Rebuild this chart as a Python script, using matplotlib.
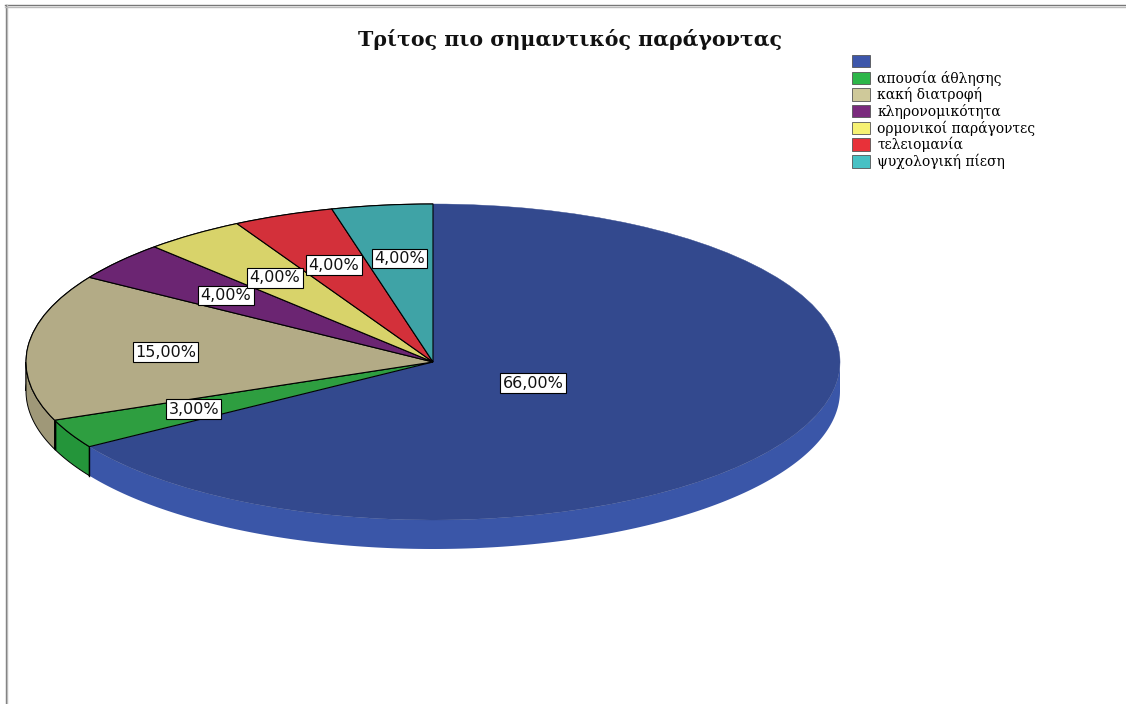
import numpy as np
import matplotlib
matplotlib.use("Agg")
import matplotlib.pyplot as plt
from matplotlib.patches import Patch
from matplotlib.lines import Line2D

# Data
categories = ["", "απουσία άθλησης", "κακή διατροφή", "κληρονομικότητα",
              "ορμονικοί παράγοντες", "τελειομανία", "ψυχολογική πίεση"]
percentages = [66.0, 3.0, 15.0, 4.0, 4.0, 4.0, 4.0]
title = "Τρίτος πιο σημαντικός παράγοντας"

# Styling
top_colors = ["#33498e", "#2e9e40", "#b3ab86", "#6b2572", "#d8d36a", "#d3303a", "#3fa3a6"]
side_colors = ["#3a56a8", "#24953a", "#9f9878", "#5a1f60", "#bdb85c", "#b52a31", "#378f92"]
legend_colors = ["#3d56aa", "#2db649", "#cfc99a", "#7a2a7d", "#f6f173", "#e83139", "#47c1c4"]
label_radius = [0.28, 0.66, 0.66, 0.66, 0.66, 0.66, 0.66]

W, H, DPI = 1126, 704, 100
fig = plt.figure(figsize=(W / DPI, H / DPI), dpi=DPI, facecolor="white")
ax = fig.add_axes([0, 0, 1, 1])

# pixel geometry of the ellipse (centre, radii) and thickness
cx, cy, rx, ry, depth_px = 433, 362, 407, 158, 29
depth = depth_px / ry

wedges, _ = ax.pie(percentages, colors=top_colors, startangle=90, counterclock=False,
                   radius=1.0, wedgeprops=dict(linewidth=0.8, edgecolor="black"))
wedges[0].set_edgecolor(top_colors[0])
wedges[0].set_linewidth(0.3)
for w in wedges:
    w.set_zorder(5)

ax.set_aspect("auto")
ax.set_xlim(-cx / rx, (W - cx) / rx)
ax.set_ylim(-(H - cy) / ry, cy / ry)
ax.axis("off")


def front_ranges(t1, t2):
    """Parts of [t1, t2] (degrees) lying on the front (lower) half of the disc."""
    out = []
    for lo, hi in [(-360, -180), (-180, 0), (180, 360)]:
        a, b = max(t1, lo), min(t2, hi)
        if b > a:
            out.append((a, b))
    return out


# extruded side of the disc
for i, w in enumerate(wedges):
    for a, b in front_ranges(w.theta1, w.theta2):
        phi = np.radians(np.linspace(a, b, 200))
        xs = np.cos(phi)
        ys = np.sin(phi)
        px = np.concatenate([xs, xs[::-1]])
        py = np.concatenate([ys, ys[::-1] - depth])
        ec = "none" if i == 0 else "black"
        ax.fill(px, py, facecolor=side_colors[i], edgecolor=ec, linewidth=0.7, zorder=2)

# vertical edges where slice boundaries meet the front side
for w in wedges[1:3]:
    for ang in (w.theta1, w.theta2):
        p = np.radians(ang)
        if np.sin(p) < 0:
            ax.plot([np.cos(p), np.cos(p)], [np.sin(p), np.sin(p) - depth],
                    color="black", linewidth=1.0, zorder=3)

# percentage labels
for i, w in enumerate(wedges):
    mid = np.radians((w.theta1 + w.theta2) / 2)
    r = label_radius[i]
    ax.text(r * np.cos(mid), r * np.sin(mid),
            f"{percentages[i]:.2f}%".replace(".", ","),
            ha="center", va="center", fontsize=11.5, family="DejaVu Sans",
            color="#111111", zorder=10,
            bbox=dict(boxstyle="square,pad=0.15", facecolor="white",
                      edgecolor="black", linewidth=0.8))

# title
fig.text(570 / W, 1 - 40 / H, title, ha="center", va="center",
         fontsize=14.8, fontweight="bold", family="DejaVu Serif", color="#111111")

# legend
handles = [Patch(facecolor=c, edgecolor="#555555", linewidth=0.6) for c in legend_colors]
fig.legend(handles, categories, loc="upper left", bbox_to_anchor=(852 / W, 1 - 55 / H),
           frameon=False, prop=dict(family="DejaVu Serif", size=10),
           handlelength=1.3, handleheight=1.0, handletextpad=0.5,
           labelspacing=0.11, borderaxespad=0, borderpad=0)

# outer frame (top and left rules)
for off, col in [(0, "#777777"), (1.5, "#bbbbbb")]:
    fig.add_artist(Line2D([5 / W, 1], [1 - (5 + off) / H, 1 - (5 + off) / H],
                          color=col, linewidth=1.0))
    fig.add_artist(Line2D([(6 + off) / W, (6 + off) / W], [0, 1 - 5 / H],
                          color=col, linewidth=1.0))

fig.savefig("out.png", dpi=DPI, facecolor="white")
